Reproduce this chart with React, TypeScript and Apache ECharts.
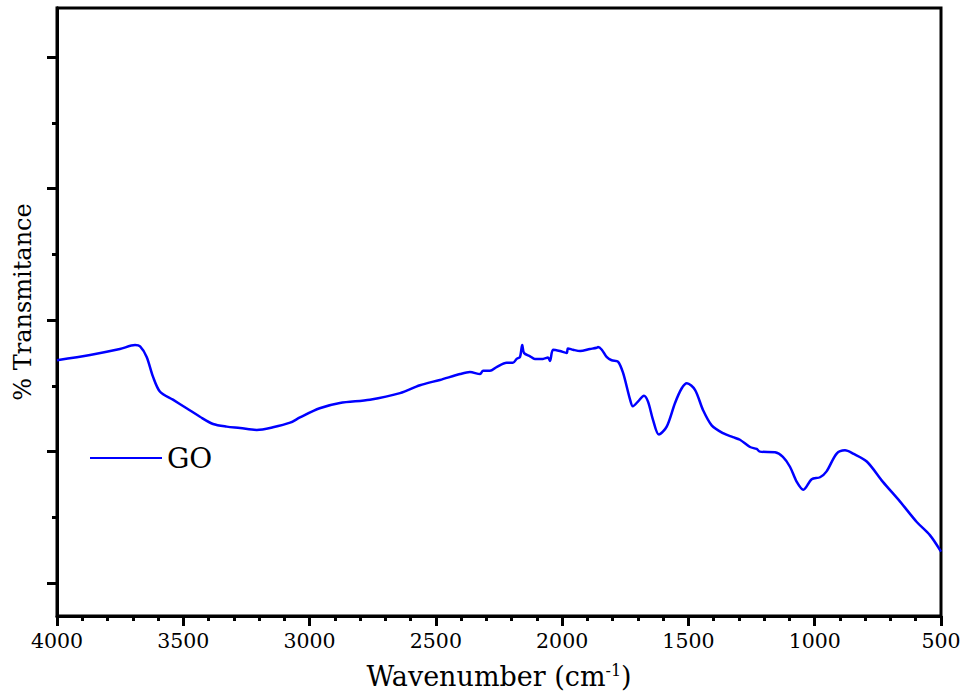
import React, { useEffect, useRef } from "react";
import * as echarts from "echarts";

const wavenumbers: number[] = [
  4000, 3869, 3751, 3691, 3671, 3645, 3620, 3592, 3541, 3487, 3434, 3382, 3328, 3275, 3209, 3145, 3077, 3038,
  2960, 2880, 2761, 2642, 2563, 2484, 2404, 2365, 2325, 2313, 2286, 2258, 2220, 2195, 2180, 2167, 2158, 2151,
  2127, 2108, 2076, 2056, 2048, 2036, 2009, 1982, 1977, 1957, 1929, 1890, 1863, 1858, 1843, 1824, 1804, 1779,
  1759, 1731, 1720, 1700, 1676, 1660, 1640, 1617, 1586, 1553, 1527, 1506, 1474, 1442, 1408, 1363, 1324, 1296,
  1256, 1230, 1217, 1157, 1126, 1098, 1071, 1045, 1012, 979, 953, 913, 880, 848, 794, 730, 662, 596, 544, 500,
];

const transmittance: number[] = [
  73.9, 74.7, 75.6, 76.2, 76.0, 74.4, 71.4, 69.1, 67.9, 66.6, 65.3, 64.2, 63.8, 63.6, 63.3, 63.7, 64.4, 65.2,
  66.6, 67.4, 67.9, 68.9, 70.1, 70.9, 71.8, 72.1, 71.8, 72.3, 72.3, 72.9, 73.5, 73.5, 74.1, 74.4, 76.2, 75.0,
  74.5, 74.1, 74.1, 74.3, 73.8, 75.5, 75.3, 75.0, 75.7, 75.5, 75.3, 75.6, 75.8, 75.9, 75.5, 74.4, 73.9, 73.7,
  72.0, 67.9, 66.9, 67.6, 68.5, 67.6, 64.8, 62.6, 63.8, 67.4, 69.6, 70.4, 69.4, 66.3, 64.0, 62.8, 62.2, 61.8,
  60.7, 60.4, 60.0, 59.9, 59.2, 57.7, 55.4, 54.2, 55.8, 56.1, 57.0, 59.7, 60.2, 59.7, 58.5, 55.4, 52.4, 49.3, 47.3, 44.8,
];

const xTickValues = [4000, 3500, 3000, 2500, 2000, 1500, 1000, 500];
const yMajorTicks = [40, 60, 80, 100, 120];
const yMinorTicks = [50, 70, 90, 110];
const seriesName = "GO";

const FONT = "DejaVu Serif";

export default function App() {
  const ref = useRef<HTMLDivElement>(null);
  useEffect(() => {
    if (!ref.current) return;
    const chart = echarts.init(ref.current, null, { renderer: "svg" });
    const data = wavenumbers.map((w, i) => [w, transmittance[i]]);
    const yBase = {
      type: "value",
      min: 35,
      max: 127.47,
      position: "left",
      axisLabel: { show: false },
      splitLine: { show: false },
      axisLine: { show: true, lineStyle: { color: "#000", width: 3 } },
    };
    chart.setOption({
      animation: false,
      backgroundColor: "#fff",
      textStyle: { fontFamily: FONT },
      grid: {
        left: 57,
        right: 25,
        top: 8,
        bottom: 82,
        show: true,
        borderColor: "#000",
        borderWidth: 3,
        containLabel: false,
        outerBoundsMode: "none",
      },
      legend: {
        show: true,
        data: [{ name: seriesName, icon: "rect" }],
        left: 90,
        top: 444,
        padding: 0,
        itemWidth: 72,
        itemHeight: 2,
        itemGap: 0,
        itemStyle: { color: "#0000ff" },
        textStyle: { fontSize: 28, color: "#000", fontFamily: FONT },
      },
      xAxis: {
        type: "value",
        min: 500,
        max: 4000,
        interval: 500,
        inverse: true,
        name: "Wavenumber (cm{sup|-1})",
        nameLocation: "middle",
        nameGap: 46,
        nameTextStyle: {
          fontSize: 27,
          color: "#000",
          fontFamily: FONT,
          rich: {
            sup: { fontSize: 16, verticalAlign: "top", color: "#000", fontFamily: FONT, padding: [0, 0, 12, 0] },
          },
        },
        axisLine: { show: true, lineStyle: { color: "#000", width: 3 } },
        axisTick: { show: true, length: 10, lineStyle: { color: "#000", width: 3 } },
        minorTick: { show: true, splitNumber: 5, length: 5, lineStyle: { color: "#000", width: 3 } },
        splitLine: { show: false },
        minorSplitLine: { show: false },
        axisLabel: {
          fontSize: 20.5,
          color: "#000",
          fontFamily: FONT,
          margin: 14,
          showMinLabel: true,
          showMaxLabel: true,
          customValues: xTickValues,
          formatter: (v: number) => String(v),
        },
      },
      yAxis: [
        {
          ...yBase,
          name: "% Transmitance",
          nameLocation: "middle",
          nameGap: 22,
          nameTextStyle: { fontSize: 24, color: "#000", fontFamily: FONT, padding: [0, 0, 0, 20] },
          axisTick: { show: true, length: 10, customValues: yMajorTicks, lineStyle: { color: "#000", width: 3 } },
        },
        {
          ...yBase,
          axisTick: { show: true, length: 5, customValues: yMinorTicks, lineStyle: { color: "#000", width: 3 } },
        },
      ],
      series: [
        {
          name: seriesName,
          type: "line",
          data,
          xAxisIndex: 0,
          yAxisIndex: 0,
          showSymbol: false,
          symbol: "none",
          smooth: 0.3,
          lineStyle: { color: "#0000ff", width: 2.5 },
          itemStyle: { color: "#0000ff" },
        },
      ],
    });
    return () => chart.dispose();
  }, []);
  return <div ref={ref} style={{ width: 966, height: 698, position: "absolute", left: 0, top: 0 }} />;
}
